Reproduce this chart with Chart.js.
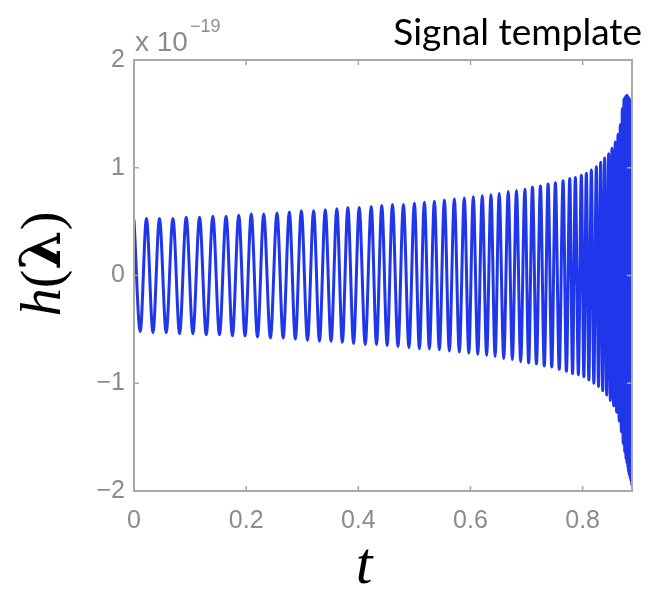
<!DOCTYPE html>
<html>
<head>
<meta charset="utf-8">
<script src="https://cdn.jsdelivr.net/npm/chart.js@4"></script>
<style>
  html, body { margin: 0; padding: 0; background: #fff; }
  canvas { display: block; }
</style>
</head>
<body>
<canvas id="canvas" width="648" height="593"></canvas>
<script>
// maxima of the chirp (t, amplitude in units of 1e-19)
const peakT = [0, 0.0222, 0.0454, 0.0694, 0.0931, 0.1169, 0.1406, 0.1642, 0.1868, 0.2091,
  0.2313, 0.2550, 0.2770, 0.2984, 0.3203, 0.3411, 0.3617, 0.3813, 0.4016, 0.4230,
  0.4418, 0.4609, 0.4804, 0.5000, 0.5178, 0.5356, 0.5534, 0.5712, 0.5890, 0.6050,
  0.6210, 0.6365, 0.6512, 0.6673, 0.6820, 0.6970, 0.7105, 0.7247, 0.7384, 0.7514,
  0.7651, 0.7770, 0.7870, 0.7977, 0.8066, 0.8155, 0.8244, 0.8322, 0.8393, 0.8464,
  0.8523, 0.8582, 0.8630, 0.8671, 0.8707, 0.8737, 0.8762, 0.8781, 0.8797, 0.8811,
  0.8824, 0.8836, 0.8847, 0.8858, 0.8868];
const peakH = [0.52, 0.53, 0.53, 0.53, 0.54, 0.54, 0.55, 0.55, 0.56, 0.57,
  0.57, 0.58, 0.59, 0.60, 0.60, 0.61, 0.62, 0.63, 0.63, 0.64,
  0.65, 0.66, 0.66, 0.67, 0.68, 0.69, 0.70, 0.71, 0.72, 0.73,
  0.74, 0.75, 0.76, 0.78, 0.79, 0.80, 0.82, 0.83, 0.85, 0.86,
  0.88, 0.90, 0.91, 0.93, 0.95, 0.98, 1.01, 1.05, 1.09, 1.13,
  1.18, 1.24, 1.31, 1.40, 1.55, 1.64, 1.66, 1.67, 1.67, 1.66,
  1.65, 1.64, 1.62, 1.60, 1.58];

// minima of the chirp
const troughT = [0.0111, 0.0338, 0.0574, 0.0813, 0.1050, 0.1288, 0.1524, 0.1755, 0.1980, 0.2202,
  0.2432, 0.2660, 0.2877, 0.3094, 0.3307, 0.3514, 0.3715, 0.3915, 0.4123, 0.4324,
  0.4514, 0.4707, 0.4902, 0.5089, 0.5267, 0.5445, 0.5623, 0.5801, 0.5970, 0.6130,
  0.6288, 0.6439, 0.6593, 0.6747, 0.6895, 0.7038, 0.7176, 0.7316, 0.7449, 0.7583,
  0.7711, 0.7820, 0.7924, 0.8022, 0.8111, 0.8200, 0.8283, 0.8358, 0.8429, 0.8494,
  0.8553, 0.8606, 0.8651, 0.8689, 0.8722, 0.8750, 0.8772, 0.8789, 0.8804, 0.8818,
  0.8830, 0.8842, 0.8853, 0.8863, 0.8876];
const troughH = [-0.52, -0.53, -0.53, -0.54, -0.54, -0.55, -0.55, -0.56, -0.56, -0.57,
  -0.58, -0.58, -0.59, -0.60, -0.61, -0.61, -0.62, -0.63, -0.64, -0.64,
  -0.65, -0.66, -0.67, -0.68, -0.68, -0.69, -0.70, -0.71, -0.72, -0.73,
  -0.74, -0.75, -0.77, -0.78, -0.80, -0.81, -0.82, -0.84, -0.85, -0.87,
  -0.89, -0.91, -0.92, -0.94, -0.97, -1.00, -1.03, -1.07, -1.11, -1.16,
  -1.21, -1.27, -1.35, -1.45, -1.56, -1.64, -1.70, -1.74, -1.78, -1.82,
  -1.85, -1.87, -1.89, -1.91, -1.95];

const xTicks = [0, 0.2, 0.4, 0.6, 0.8];
const yTicks = [-2, -1, 0, 1, 2];
const tMax = 0.888;

const titleText = 'Signal template';
const exponentBase = 'x 10';
const exponent = '\u221219';

const gray = '#8c8c8c';
const boxGray = '#a9a9a9';

let points = [];
for (let i = 0; i < peakT.length; i++) {
  points.push({ x: peakT[i], y: peakH[i] });
  points.push({ x: troughT[i], y: troughH[i] });
}

// box, inner ticks and the hand placed texts
const decor = {
  id: 'decor',
  afterDatasetsDraw(chart) {
    const ctx = chart.ctx;
    const a = chart.chartArea;
    const xs = chart.scales.x, ys = chart.scales.y;
    ctx.save();
    ctx.strokeStyle = boxGray;
    ctx.lineWidth = 2;
    ctx.strokeRect(a.left, a.top, a.right - a.left, a.bottom - a.top);
    ctx.lineWidth = 1.5;
    ctx.beginPath();
    xTicks.forEach(v => {
      let px = xs.getPixelForValue(v);
      ctx.moveTo(px, a.bottom); ctx.lineTo(px, a.bottom - 5);
      ctx.moveTo(px, a.top); ctx.lineTo(px, a.top + 5);
    });
    yTicks.forEach(v => {
      let py = ys.getPixelForValue(v);
      ctx.moveTo(a.left, py); ctx.lineTo(a.left + 5, py);
      ctx.moveTo(a.right, py); ctx.lineTo(a.right - 5, py);
    });
    ctx.stroke();

    // exponent label
    ctx.fillStyle = gray;
    ctx.textAlign = 'left';
    ctx.textBaseline = 'alphabetic';
    ctx.font = '28px "Liberation Sans", Arial, sans-serif';
    ctx.fillText(exponentBase, a.left + 1, 51);
    let w = ctx.measureText(exponentBase).width;
    ctx.font = '18px "Liberation Sans", Arial, sans-serif';
    ctx.fillText(exponent, a.left + 1 + w + 2, 32);

    // title
    ctx.fillStyle = '#000';
    ctx.textAlign = 'right';
    ctx.font = '37px Lato, "Open Sans", sans-serif';
    ctx.fillText(titleText, 642, 45);

    // x axis title
    ctx.textAlign = 'center';
    ctx.font = 'italic 60px "Liberation Serif", "DejaVu Serif", serif';
    ctx.fillText('t', 364, 583);

    // y axis title h(λ), rotated
    ctx.translate(60, 264);
    ctx.rotate(-Math.PI / 2);
    const parts = [
      ['h', 'italic 56px "Liberation Serif", serif'],
      ['(', '56px "Liberation Serif", serif'],
      ['\u03bb', 'bold 56px "DejaVu Serif", serif'],
      [')', '56px "Liberation Serif", serif']
    ];
    let total = 0;
    parts.forEach(p => { ctx.font = p[1]; total += ctx.measureText(p[0]).width; });
    let x = -total / 2;
    ctx.textAlign = 'left';
    parts.forEach(p => {
      ctx.font = p[1];
      ctx.fillText(p[0], x, 0);
      x += ctx.measureText(p[0]).width;
    });
    ctx.restore();
  }
};

const tickFont = { family: '"Liberation Sans", Arial, sans-serif', size: 25 };

new Chart(document.getElementById('canvas'), {
  type: 'line',
  data: {
    datasets: [{
      data: points,
      borderColor: '#1f36ea',
      borderWidth: 3,
      pointRadius: 0,
      fill: false,
      cubicInterpolationMode: 'monotone'
    }]
  },
  options: {
    responsive: false,
    animation: false,
    devicePixelRatio: 1,
    layout: { padding: { top: 60, right: 16, bottom: 0, left: 0 } },
    plugins: { legend: { display: false }, tooltip: { enabled: false }, title: { display: false } },
    scales: {
      x: {
        type: 'linear',
        min: 0,
        max: tMax,
        afterBuildTicks: s => { s.ticks = xTicks.map(v => ({ value: v })); },
        afterFit: s => { s.height = 102; },
        grid: { display: false, drawTicks: false },
        border: { display: false },
        ticks: { color: gray, font: tickFont, padding: 15, maxRotation: 0, callback: v => String(v) }
      },
      y: {
        type: 'linear',
        min: -2,
        max: 2,
        afterBuildTicks: s => { s.ticks = yTicks.map(v => ({ value: v })); },
        afterFit: s => { s.width = 134; },
        grid: { display: false, drawTicks: false },
        border: { display: false },
        ticks: { color: gray, font: tickFont, padding: 9, callback: v => v < 0 ? '\u2212' + Math.abs(v) : String(v) }
      }
    }
  },
  plugins: [decor]
});
</script>
</body>
</html>
